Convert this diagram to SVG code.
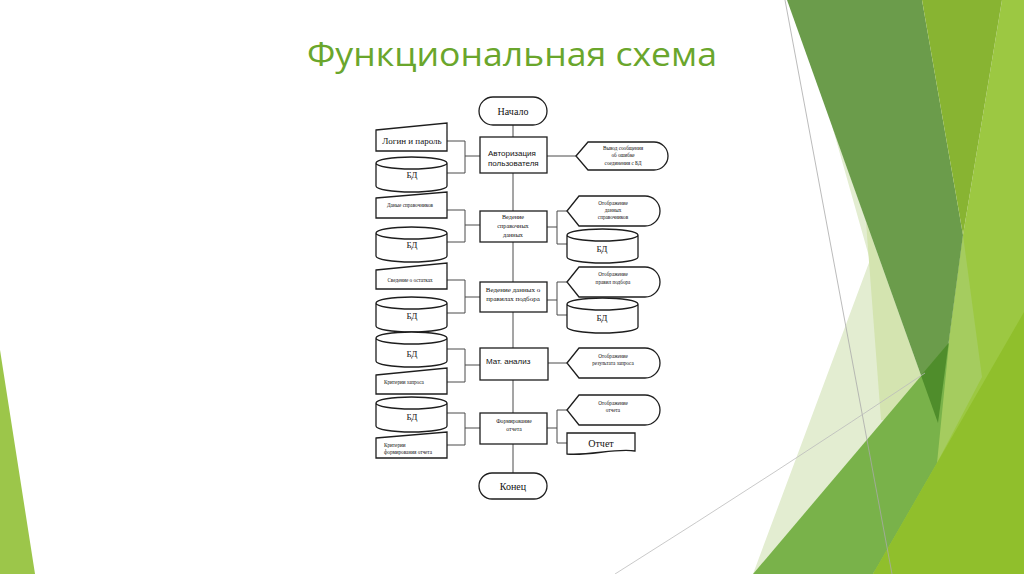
<svg xmlns="http://www.w3.org/2000/svg" width="1024" height="574" viewBox="0 0 1024 574">
<style>
.shape{fill:#fff;stroke:#1e1e1e;stroke-width:1.3}
.conn path{fill:none;stroke:#4a4a4a;stroke-width:1}
.sf{font-family:"Liberation Serif",serif;fill:#111;text-anchor:middle}
.st{text-anchor:start}
.ss{font-family:"Liberation Sans",sans-serif;fill:#111}
.t5{font-size:5.2px}
.t6{font-size:6.2px}
.t9{font-size:9px}
.t10{font-size:10px}
</style>
<rect width="1024" height="574" fill="#ffffff"/>
<g id="background">
<polygon points="0,350 35,574 0,574" fill="#9cc64a"/>
<polygon points="1002,0 1024,0 1024,574 873,574 938,423 963,235" fill="#9cc842"/>
<polygon points="963,235 982,377 937,463 938,423" fill="#a5cc5f"/>
<polygon points="831,122 938,423 753,574 870,260" fill="#e3edd1"/>
<polygon points="866,222 938,423 881,420" fill="#d4e4b0"/>
<polygon points="787,0 922,0 963,235 938,423" fill="#6b9c4b"/>
<polygon points="922,0 1002,0 963,235" fill="#88b432"/>
<polygon points="753,574 949,343 937,463 873,574" fill="#79b24a"/>
<polygon points="921,375.5 948.6,343 938,423" fill="#4f8d2b"/>
<polygon points="873,574 1024,574 1024,312" fill="#90bf2c"/>
<path d="M785,0 L892,574" stroke="#aaaaaa" stroke-width="0.8" fill="none"/>
<path d="M615,574 Q780,470 925,373" stroke="#bbbbbb" stroke-width="0.8" fill="none"/>
</g>
<text id="title" x="307" y="66" font-family="Open Sans, sans-serif" font-size="32" fill="#6aa62c" textLength="410" lengthAdjust="spacingAndGlyphs">Функциональная схема</text>
<g id="connectors" class="conn">
<path d="M513,125V137 M513,173V211 M513,242V282 M513,312V348 M513,380V413 M513,444V473"/>
<path d="M447,141H465 M447,173H465 M465,141V173 M465,156H480"/>
<path d="M447,210H465 M447,242H465 M465,210V242 M465,225H480"/>
<path d="M447,280H465 M447,313H465 M465,280V313 M465,297H480"/>
<path d="M447,349H465 M447,382H465 M465,349V382 M465,365H480"/>
<path d="M447,413H465 M447,445H465 M465,413V445 M465,428H480"/>
<path d="M547,156H576"/>
<path d="M547,227H557 M557,211V244 M557,211H567 M557,244H567"/>
<path d="M547,300H557 M557,282V315 M557,282H567 M557,315H567"/>
<path d="M547,363H567"/>
<path d="M547,428H557 M557,410V443 M557,410H567 M557,443H567"/>
</g>
<g id="n-start"><rect class="shape" x="479" y="97" width="68" height="28" rx="14"/><text class="sf t10" x="513" y="114.5">Начало</text></g>
<g id="n-auth"><rect class="shape" x="480" y="137" width="67" height="36"/><text class="ss" font-size="8" x="488" y="155.5">Авторизация</text><text class="ss" font-size="8" x="488" y="165.5">пользователя</text></g>
<g id="n-ref"><rect class="shape" x="480" y="211" width="67" height="31"/><text class="sf t6" x="513" y="219">Ведение</text><text class="sf t6" x="513" y="228">справочных</text><text class="sf t6" x="513" y="237">данных</text></g>
<g id="n-rules"><rect class="shape" x="480" y="282" width="67" height="30"/><text class="sf" font-size="7" x="513" y="291.5">Ведение данных о</text><text class="sf" font-size="7" x="513" y="300.5">правилах подбора</text></g>
<g id="n-math"><rect class="shape" x="480" y="348" width="68" height="32"/><text class="ss" font-size="8" x="486" y="364">Мат. анализ</text></g>
<g id="n-report"><rect class="shape" x="480" y="413" width="67" height="31"/><text class="sf" font-size="5.6" x="514" y="423">Формирование</text><text class="sf" font-size="5.6" x="514" y="431">отчета</text></g>
<g id="n-end"><rect class="shape" x="479" y="473" width="68" height="26" rx="13"/><text class="sf t10" x="513" y="489.5">Конец</text></g>
<g id="n-login"><path class="shape" d="M376,130 L447,123 L447,151 L376,151 Z"/><text class="sf t9" x="412" y="144">Логин и пароль</text></g>
<g id="n-db1"><path class="shape" d="M376,163 A35.5,6 0 0,1 447,163 L447,186 A35.5,6 0 0,1 376,186 Z M376,163 A35.5,6 0 0,0 447,163"/><text class="sf t9" x="412" y="178">БД</text></g>
<g id="n-refdata"><path class="shape" d="M376,198 L447,192 L447,218 L376,218 Z"/><text class="sf t5" x="410" y="207">Даные справочников</text></g>
<g id="n-db2"><path class="shape" d="M376,233 A35.5,6 0 0,1 447,233 L447,256 A35.5,6 0 0,1 376,256 Z M376,233 A35.5,6 0 0,0 447,233"/><text class="sf t9" x="412" y="248">БД</text></g>
<g id="n-stock"><path class="shape" d="M376,270 L447,263 L447,289 L376,289 Z"/><text class="sf t5" x="410" y="282">Сведение о остатках</text></g>
<g id="n-db3"><path class="shape" d="M376,303 A35.5,6 0 0,1 447,303 L447,326 A35.5,6 0 0,1 376,326 Z M376,303 A35.5,6 0 0,0 447,303"/><text class="sf t9" x="412" y="319">БД</text></g>
<g id="n-db4"><path class="shape" d="M376,338 A35.5,6 0 0,1 447,338 L447,361 A35.5,6 0 0,1 376,361 Z M376,338 A35.5,6 0 0,0 447,338"/><text class="sf t9" x="412" y="357">БД</text></g>
<g id="n-query"><path class="shape" d="M376,375 L447,368 L447,394 L376,394 Z"/><text class="sf st t5" x="384" y="384">Критерии запроса</text></g>
<g id="n-db5"><path class="shape" d="M376,403 A35.5,6 0 0,1 447,403 L447,426 A35.5,6 0 0,1 376,426 Z M376,403 A35.5,6 0 0,0 447,403"/><text class="sf t9" x="412" y="420">БД</text></g>
<g id="n-repcrit"><path class="shape" d="M376,438 L447,432 L447,458 L376,458 Z"/><text class="sf st t5" x="384" y="447">Критерии</text><text class="sf st t5" x="384" y="454">формирования отчета</text></g>
<g id="n-err"><path class="shape" d="M576,156 L588,142 L654,142 A14,14 0 0,1 654,170 L588,170 Z"/><text class="sf t5" x="623" y="150">Вывод сообщения</text><text class="sf t5" x="623" y="157">об ошибке</text><text class="sf t5" x="623" y="164.5">соединения с БД</text></g>
<g id="n-disp1"><path class="shape" d="M567,211 L579,196 L645,196 A15,15 0 0,1 645,226 L579,226 Z"/><text class="sf t5" x="613" y="205">Отображение</text><text class="sf t5" x="613" y="212">данных</text><text class="sf t5" x="613" y="219">справочников</text></g>
<g id="n-dbr1"><path class="shape" d="M567,235 A35.5,6 0 0,1 638,235 L638,257 A35.5,6 0 0,1 567,257 Z M567,235 A35.5,6 0 0,0 638,235"/><text class="sf t9" x="602" y="252">БД</text></g>
<g id="n-disp2"><path class="shape" d="M567,282 L579,267 L645,267 A15,15 0 0,1 645,297 L579,297 Z"/><text class="sf t5" x="613" y="276">Отображение</text><text class="sf t5" x="613" y="283.5">правил подбора</text></g>
<g id="n-dbr2"><path class="shape" d="M567,304 A35.5,6 0 0,1 638,304 L638,327 A35.5,6 0 0,1 567,327 Z M567,304 A35.5,6 0 0,0 638,304"/><text class="sf t9" x="602" y="321">БД</text></g>
<g id="n-disp3"><path class="shape" d="M567,363 L579,348 L645,348 A15,15 0 0,1 645,378 L579,378 Z"/><text class="sf t5" x="613" y="358">Отображение</text><text class="sf t5" x="613" y="365">результата запроса</text></g>
<g id="n-disp4"><path class="shape" d="M567,410 L579,395 L645,395 A15,15 0 0,1 645,425 L579,425 Z"/><text class="sf t5" x="613" y="404.5">Отображение</text><text class="sf t5" x="613" y="411.5">отчета</text></g>
<g id="n-doc"><path class="shape" d="M567,433 H635 V451 C615,448 590,456 567,454 Z"/><text class="sf t10" x="601" y="446.5">Отчет</text></g>
</svg>
